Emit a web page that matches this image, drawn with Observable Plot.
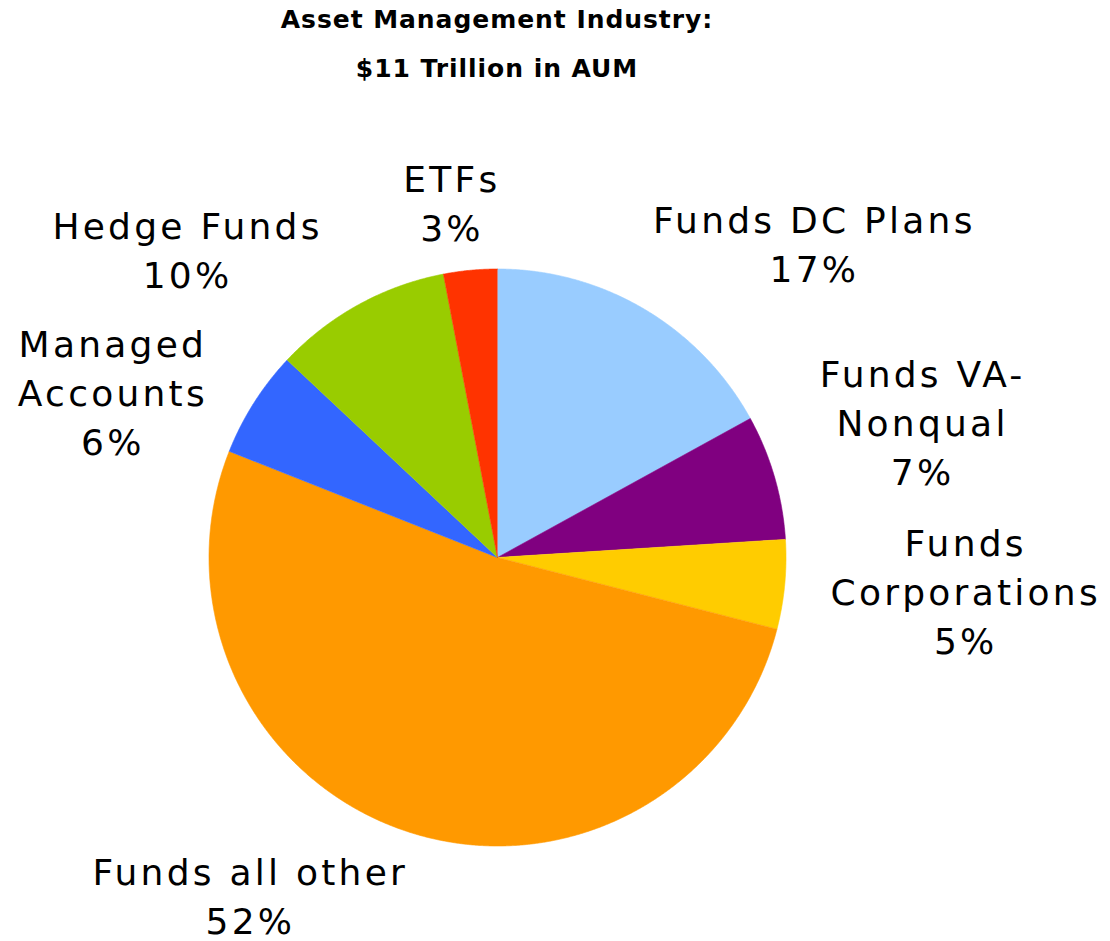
<!DOCTYPE html>
<html><head><meta charset="utf-8">
<script src="https://cdn.jsdelivr.net/npm/d3@7"></script>
<script src="https://cdn.jsdelivr.net/npm/@observablehq/plot@0.6"></script>
<style>
body{margin:0;background:#fff;font-family:"DejaVu Sans",Verdana,sans-serif;}
#wrap{position:relative;width:1110px;height:941px;overflow:hidden;}
.t{position:absolute;left:0;width:994px;text-align:center;font-weight:bold;font-size:25px;line-height:40px;height:40px;letter-spacing:0.95px;color:#000;white-space:nowrap;}
#chart{position:absolute;left:0;top:100px;}
#chart svg{display:block;}
#chart svg text{letter-spacing:3.25px;}
</style></head><body>
<div id="wrap">
<div class="t" style="top:0">Asset Management Industry:</div>
<div class="t" style="top:49px">$11 Trillion in AUM</div>
<div id="chart"></div>
</div>
<script>
// Data
const categories = ["Funds DC Plans", "Funds VA-\nNonqual", "Funds\nCorporations", "Funds all other", "Managed\nAccounts", "Hedge Funds", "ETFs"];
const shares = [17, 7, 5, 52, 6, 10, 3];
const colors = ["#99CCFF", "#800080", "#FFCC00", "#FF9900", "#3366FF", "#99CC00", "#FF3300"];
// Layout: label nudges (px, x right / y up) from the slice's mid-angle rim point
const labelNudge = [[170, 67], [148, 56.5], [181, -5], [-158, -62], [-141, 12.5], [-171, 56.7], [-18.4, 69.3]];

const R = 288.5; // pie radius in px (layout)
const arcs = d3.pie().sort(null).startAngle(0).endAngle(2 * Math.PI)(shares);

const slicePoints = [];
arcs.forEach((a, i) => {
  slicePoints.push({cat: categories[i], color: colors[i], x: 0, y: 0});
  const n = Math.max(2, Math.ceil((a.endAngle - a.startAngle) / 0.004));
  for (let k = 0; k <= n; k++) {
    const t = a.startAngle + (a.endAngle - a.startAngle) * k / n;
    slicePoints.push({cat: categories[i], color: colors[i], x: Math.sin(t), y: Math.cos(t)});
  }
});

const labelData = arcs.map((a, i) => {
  const m = (a.startAngle + a.endAngle) / 2;
  return {
    text: categories[i] + "\n" + shares[i] + "%",
    x: Math.sin(m) + labelNudge[i][0] / R,
    y: Math.cos(m) + labelNudge[i][1] / R
  };
});

const chart = Plot.plot({
  width: 1110,
  height: 841,
  marginLeft: 497 - R,
  marginRight: 1110 - (497 + R),
  marginTop: 168.5,
  marginBottom: 841 - (168.5 + 2 * R),
  x: {domain: [-1, 1], axis: null},
  y: {domain: [-1, 1], axis: null},
  color: {type: "identity"},
  style: {fontFamily: "DejaVu Sans, Verdana, sans-serif", background: "white", overflow: "visible"},
  marks: [
    Plot.line(slicePoints, {x: "x", y: "y", z: "cat", fill: "color", stroke: "color", strokeWidth: 0.6, curve: "linear"}),
    Plot.text(labelData, {x: "x", y: "y", text: "text", fontSize: 36, lineHeight: 1.36, textAnchor: "middle", lineAnchor: "middle", fill: "black", fontFamily: "DejaVu Sans, Verdana, sans-serif"})
  ]
});
document.getElementById("chart").appendChild(chart);
</script>
</body></html>
